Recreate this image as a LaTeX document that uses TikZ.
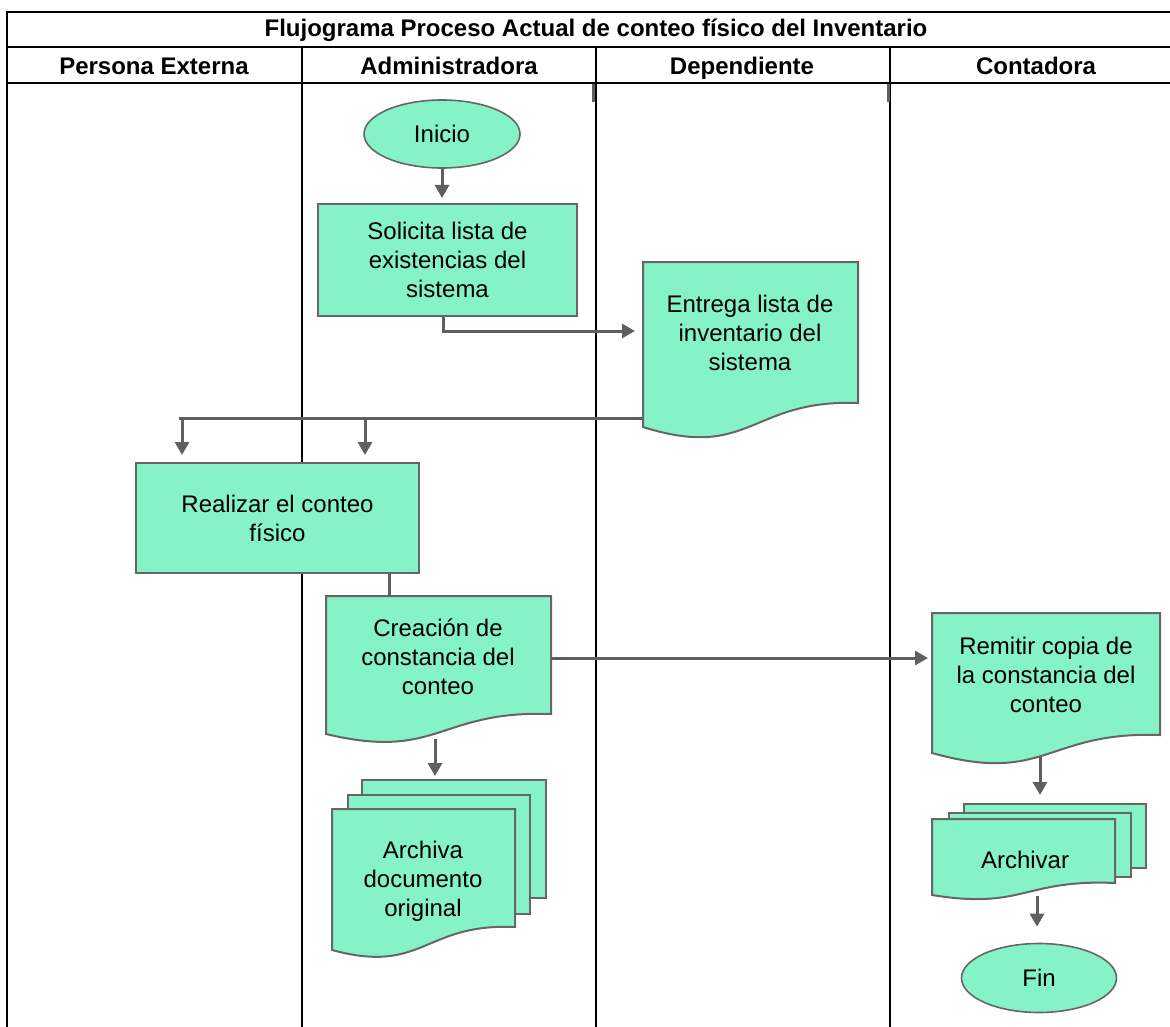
\documentclass[tikz,border=0pt]{standalone}
\usepackage{fontspec}
\setmainfont{Liberation Sans}
\usetikzlibrary{arrows.meta,calc,shapes.geometric}
\definecolor{mint}{HTML}{85F2C8}
\definecolor{edgegray}{HTML}{666666}
\definecolor{conngray}{HTML}{5F5F5F}
\newcommand\mydocshape[3]{%
  \draw[docline] (#1.north west) -- (#1.north east) -- ($(#1.south east)+(0,-#2)$)
    .. controls ($(#1.south)+(0,-#2-4)$) and ($(#1.south)+(0,#3)$) .. (#1.south west) -- cycle;}
\begin{document}
\begin{tikzpicture}[x=1pt,y=-1pt,
  lane/.style={line width=2pt, black},
  box/.style={draw=edgegray, line width=2pt, fill=mint, rectangle, inner sep=0pt,
    align=center, font=\fontsize{24}{29}\selectfont},
  ghost/.style={rectangle, inner sep=0pt, outer sep=0pt},
  term/.style={draw=edgegray, line width=1.6pt, fill=mint, ellipse, inner sep=0pt,
    font=\fontsize{24}{29}\selectfont},
  txt/.style={align=center, font=\fontsize{24}{29}\selectfont, inner sep=0pt},
  head/.style={font=\bfseries\fontsize{24}{29}\selectfont, inner sep=0pt, anchor=base},
  conn/.style={draw=conngray, line width=3pt, -{Triangle[length=13pt,width=14pt]}},
  link/.style={draw=conngray, line width=3pt},
  docline/.style={draw=edgegray, line width=2pt, fill=mint, line join=miter}
]
\useasboundingbox (0,0) rectangle (1170,1027);

% frame and lanes
\draw[lane] (7,12) -- (1172,12);
\draw[lane] (7,47) -- (1172,47);
\draw[lane] (7,83) -- (1172,83);
\draw[lane] (7,11) -- (7,1030);
\draw[lane] (302,47) -- (302,1030);
\draw[lane] (596,47) -- (596,1030);
\draw[lane] (890,47) -- (890,1030);
\draw[link] (593,84) -- (593,102);
\draw[link] (888,84) -- (888,102);

\node[head] (title) at (596,37) {Flujograma Proceso Actual de conteo físico del Inventario};
\node[head] (h1) at (154,75) {Persona Externa};
\node[head] (h2) at (449,75) {Administradora};
\node[head] (h3) at (742,75) {Dependiente};
\node[head] (h4) at (1036,75) {Contadora};

% Inicio and Solicita
\node[term, minimum width=156pt, minimum height=68pt] (inicio) at (442,134) {Inicio};
\node[box, minimum width=259pt, minimum height=112pt, anchor=north west] (solicita) at (317,203)
  {Solicita lista de\\existencias del\\sistema};

% Entrega document
\node[ghost, minimum width=215pt, minimum height=165pt, anchor=north west] (entrega) at (643,262) {};
\mydocshape{entrega}{24}{34}
\node[txt] (entregaT) at (750,333) {Entrega lista de\\inventario del\\sistema};

% Realizar
\node[box, minimum width=283pt, minimum height=110pt, anchor=north west] (realizar) at (135,462)
  {Realizar el conteo\\físico};

% Creacion document
\node[ghost, minimum width=225pt, minimum height=138pt, anchor=north west] (creacion) at (326,596) {};
\mydocshape{creacion}{20}{27}
\node[txt] (creacionT) at (438,657) {Creación de\\constancia del\\conteo};

% Archiva multi-document
\node[box, minimum width=184pt, minimum height=118pt, anchor=north west] (archB1) at (361,779) {};
\node[box, minimum width=182pt, minimum height=119pt, anchor=north west] (archB2) at (347,794) {};
\node[ghost, minimum width=183pt, minimum height=141pt, anchor=north west] (archiva) at (332,809) {};
\mydocshape{archiva}{23}{25}
\node[txt] (archivaT) at (423,881) {Archiva\\documento\\original};

% Remitir document
\node[ghost, minimum width=228pt, minimum height=140pt, anchor=north west] (remitir) at (932,613) {};
\mydocshape{remitir}{18}{32}
\node[txt] (remitirT) at (1046,675) {Remitir copia de\\la constancia del\\conteo};

% Archivar multi-document
\node[box, minimum width=182pt, minimum height=64pt, anchor=north west] (arcvB1) at (963,803) {};
\node[box, minimum width=182pt, minimum height=64pt, anchor=north west] (arcvB2) at (948,812) {};
\node[ghost, minimum width=183pt, minimum height=76pt, anchor=north west] (archivar) at (932,819) {};
\mydocshape{archivar}{12}{15}
\node[txt] (archivarT) at (1025,860) {Archivar};

% Fin
\node[term, minimum width=155pt, minimum height=69pt] (fin) at (1039,978) {Fin};

% connectors
\coordinate (c1) at (443,331);
\coordinate (c2) at (179,418);
\coordinate (d1) at (182,418);
\coordinate (d2) at (365,418);
\coordinate (c3) at (389,0);
\coordinate (c4) at (0,658);
\coordinate (c5) at (435,0);
\coordinate (c6) at (1040,0);
\coordinate (c7) at (1037,0);

\draw[conn, shorten >=5pt] (inicio.south) -- (inicio.south |- solicita.north);
\draw[conn, shorten >=8pt] (solicita.south -| c1) -- (c1) -- (c1 -| entrega.west);
\draw[link] (entrega.west |- c2) -- (c2);
\draw[conn, shorten >=7pt] (d1) -- (d1 |- realizar.north);
\draw[conn, shorten >=7pt] (d2) -- (d2 |- realizar.north);
\draw[link] (realizar.south -| c3) -- (creacion.north -| c3);
\draw[conn, shorten >=4pt] (creacion.east |- c4) -- (remitir.west |- c4);
\draw[conn, shorten >=3pt] ($(creacion.south -| c5)+(0,5)$) -- (archB1.north -| c5);
\draw[conn, shorten >=8pt] ($(remitir.south -| c6)+(0,4)$) -- (arcvB1.north -| c6);
\draw[conn, shorten >=16pt] ($(archivar.south -| c7)+(0,1)$) -- (fin.north -| c7);
\end{tikzpicture}
\end{document}
